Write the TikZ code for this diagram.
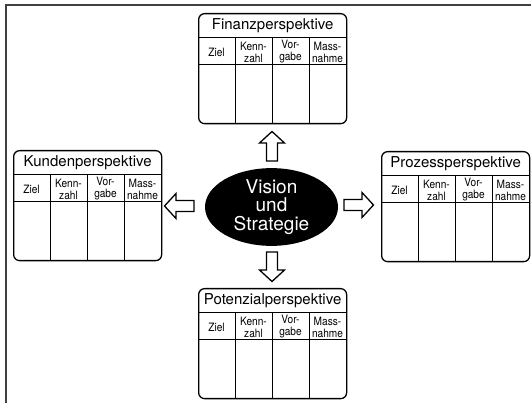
\documentclass[tikz,border=0pt]{standalone}
\usepackage{fontspec}
\setmainfont{TeX Gyre Heros}
\newfontfamily\headfont[FakeStretch=0.88]{TeX Gyre Heros}
\newfontfamily\titlefont{TeX Gyre Heros}
\usetikzlibrary{shapes.geometric}
\tikzset{
  boxframe/.style={draw, line width=1.3pt, rounded corners=6pt, minimum width=148pt, minimum height=110pt, inner sep=0pt, anchor=north west},
  rulel/.style={line width=1pt},
  titletext/.style={font=\titlefont\fontsize{15}{17}\selectfont, inner sep=0pt},
  headtext/.style={font=\headfont\fontsize{11.5}{12}\selectfont, align=center, inner sep=0pt},
  blockarr/.style={draw, line width=1.3pt, fill=white, line join=miter},
  frameline/.style={draw=black!75, line width=1.6pt},
  visionnode/.style={ellipse, fill=black, minimum width=133pt, minimum height=76pt, inner sep=0pt, text=white, align=center, font=\fontsize{19}{18.5}\selectfont},
}
\newcommand\perspbox[4]{%
  \node[boxframe] (#1) at (#2,-#3) {};
  \node[titletext] (#1-title) at ([yshift=-12.5pt]#1.north) {#4};
  \draw[rulel] ([yshift=-25pt]#1.north west) -- ([yshift=-25pt]#1.north east);
  \draw[rulel] ([yshift=-52pt]#1.north west) -- ([yshift=-52pt]#1.north east);
  \draw[rulel] ([xshift=37pt,yshift=-25pt]#1.north west) -- ([xshift=37pt]#1.south west);
  \draw[rulel] ([xshift=74pt,yshift=-25pt]#1.north west) -- ([xshift=74pt]#1.south west);
  \draw[rulel] ([xshift=111pt,yshift=-25pt]#1.north west) -- ([xshift=111pt]#1.south west);
  \node[headtext] (#1-h1) at ([xshift=18.5pt,yshift=-39pt]#1.north west) {Ziel};
  \node[headtext] (#1-h2) at ([xshift=55.5pt,yshift=-39pt]#1.north west) {Kenn-\\zahl};
  \node[headtext] (#1-h3) at ([xshift=92.5pt,yshift=-39pt]#1.north west) {Vor-\\gabe};
  \node[headtext] (#1-h4) at ([xshift=129.5pt,yshift=-39pt]#1.north west) {Mass-\\nahme};
}
\newcommand\blockarrow[4]{%
  \coordinate (#1) at (#2,-#3);
  \draw[blockarr, shift={(#1)}, rotate=#4] (0,-5.5) -- (18,-5.5) -- (18,-12.5) -- (29.5,0) -- (18,12.5) -- (18,5.5) -- (0,5.5) -- cycle;
}
\begin{document}
\begin{tikzpicture}[x=1pt,y=1pt]
\useasboundingbox (0,0) rectangle (531,-403);
\draw[frameline] (6,-403) -- (6,-5) -- (531,-5);
\perspbox{finanz}{198}{13}{Finanzperspektive}
\perspbox{kunden}{13}{150}{Kundenperspektive}
\perspbox{prozess}{381}{151}{Prozessperspektive}
\perspbox{potenzial}{198}{288}{Potenzialperspektive}
\node[visionnode] (vision) at (271.5,-207) {Vision\\und\\Strategie};
\blockarrow{aup}{272}{161}{90}
\blockarrow{adown}{272}{252}{-90}
\blockarrow{aright}{344}{205}{0}
\blockarrow{aleft}{194}{206}{180}
\end{tikzpicture}
\end{document}
